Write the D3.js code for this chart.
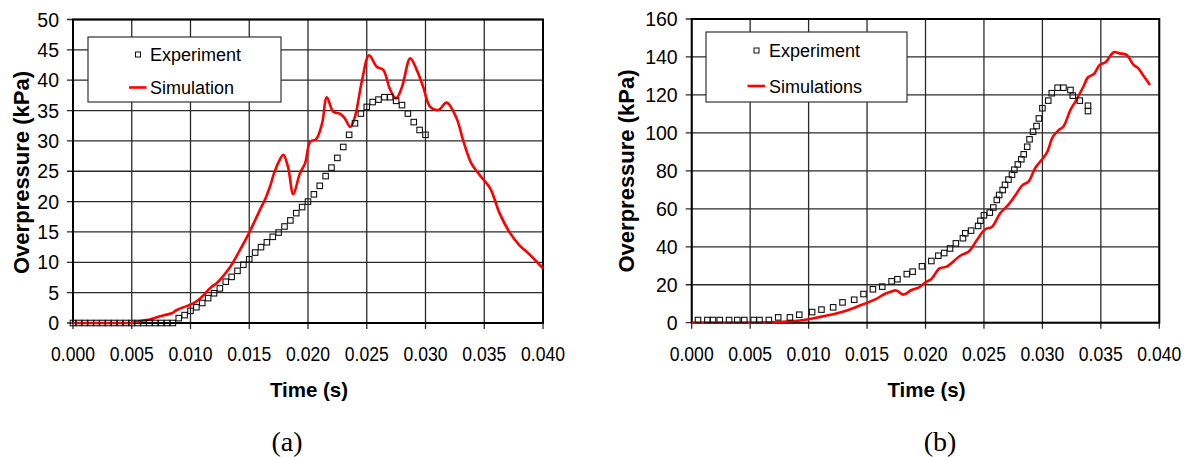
<!DOCTYPE html>
<html>
<head>
<meta charset="utf-8">
<script src="https://cdn.jsdelivr.net/npm/d3@7"></script>
<style>
  body { margin: 0; background: #fff; }
  svg text { font-family: "Liberation Sans", Arial, sans-serif; fill: #000; }
</style>
</head>
<body>
<svg id="fig" width="1191" height="457"></svg>
<script>
// Overpressure vs time, two panels (a) and (b)

const xTicks = [0, 0.005, 0.010, 0.015, 0.020, 0.025, 0.030, 0.035, 0.040];
const leftYTicks = [0, 5, 10, 15, 20, 25, 30, 35, 40, 45, 50];
const rightYTicks = [0, 20, 40, 60, 80, 100, 120, 140, 160];

// panel (a)
const leftExperiment = [
  [0.0000, 0], [0.0005, 0], [0.0010, 0], [0.0015, 0], [0.0020, 0], [0.0025, 0],
  [0.0030, 0], [0.0035, 0], [0.0040, 0], [0.0045, 0], [0.0050, 0], [0.0055, 0],
  [0.0060, 0], [0.0065, 0], [0.0070, 0], [0.0075, 0], [0.0080, 0], [0.0085, 0],
  [0.0090, 0.8], [0.0095, 1.3], [0.0100, 2.0], [0.0105, 2.6], [0.0110, 3.3],
  [0.0115, 4.1], [0.0120, 4.9], [0.0125, 5.7], [0.0130, 6.8], [0.0135, 7.6],
  [0.0140, 8.6], [0.0145, 9.6], [0.0150, 10.5], [0.0155, 11.6], [0.0160, 12.5],
  [0.0165, 13.3], [0.0170, 14.2], [0.0175, 14.9], [0.0180, 15.9], [0.0185, 16.9],
  [0.0190, 18.1], [0.0195, 19.1], [0.0200, 20.0], [0.0205, 21.2], [0.0210, 22.6],
  [0.0215, 24.2], [0.0220, 25.6], [0.0225, 27.2], [0.0230, 29.0], [0.0235, 31.0],
  [0.0240, 32.9], [0.0245, 34.5], [0.0250, 35.6], [0.0255, 36.4], [0.0260, 36.8],
  [0.0265, 37.2], [0.0270, 37.2], [0.0275, 36.6], [0.0280, 35.9], [0.0285, 34.5],
  [0.0290, 33.1], [0.0295, 31.8], [0.0300, 31.0]
];
const leftSimulation = [
  [0.0000, 0], [0.0030, 0], [0.0050, 0.05], [0.0060, 0.4], [0.0066, 0.6],
  [0.0074, 1.1], [0.0078, 1.3], [0.0084, 1.6], [0.0088, 2.1], [0.0094, 2.6],
  [0.0101, 3.1], [0.0108, 4.0], [0.0117, 5.8], [0.0122, 6.5], [0.0126, 7.3],
  [0.0134, 9.3], [0.0142, 12.0], [0.0150, 14.9], [0.0159, 18.6], [0.0164, 20.6],
  [0.0168, 22.7], [0.0171, 24.6], [0.0175, 26.5], [0.0179, 27.7], [0.0183, 25.7],
  [0.01875, 21.2], [0.0193, 24.6], [0.01975, 26.3], [0.0202, 29.9], [0.0207, 30.3],
  [0.0212, 32.9], [0.0216, 37.2], [0.02215, 34.8], [0.0227, 34.5], [0.0231, 33.8],
  [0.0236, 32.3], [0.0240, 34.0], [0.0246, 40.0], [0.0252, 44.1], [0.02585, 42.2],
  [0.0264, 41.7], [0.0270, 38.4], [0.0275, 37.0], [0.0280, 38.9], [0.0287, 43.6],
  [0.02925, 41.7], [0.0298, 38.9], [0.0304, 35.6], [0.0311, 35.1], [0.0318, 36.3],
  [0.03265, 33.7], [0.0332, 30.1], [0.0339, 26.3], [0.0346, 24.4], [0.0355, 22.2],
  [0.0363, 18.1], [0.0372, 14.8], [0.0380, 12.8], [0.0389, 11.2], [0.0400, 9.0]
];

// panel (b)
const rightExperiment = [
  [0.00054, 1.4], [0.00134, 1.4], [0.00182, 1.4], [0.0024, 1.4], [0.0032, 1.4],
  [0.0039, 1.4], [0.0045, 1.4], [0.0053, 1.4], [0.0058, 1.4], [0.0066, 1.4],
  [0.0074, 2.8], [0.0084, 2.8], [0.0092, 4.2], [0.0103, 5.6], [0.0111, 6.9],
  [0.0121, 8.1], [0.0129, 10.7], [0.0139, 12.1], [0.0147, 15.1], [0.0155, 17.6],
  [0.0163, 19.0], [0.0171, 21.8], [0.0176, 22.9], [0.0184, 25.6], [0.0189, 26.9],
  [0.0197, 29.7], [0.0205, 32.5], [0.0211, 35.3], [0.0216, 36.7], [0.0221, 39.1],
  [0.0226, 41.8], [0.0232, 44.5], [0.0234, 47.1], [0.0239, 48.5], [0.0245, 51.0],
  [0.0247, 53.7], [0.0250, 56.6], [0.0255, 58.0], [0.0258, 60.7], [0.0261, 64.7],
  [0.0263, 67.3], [0.0266, 69.9], [0.0268, 72.6], [0.0271, 75.4], [0.0274, 78.0],
  [0.0276, 80.6], [0.0279, 83.4], [0.0282, 86.1], [0.0284, 88.7], [0.0287, 92.7],
  [0.0289, 96.6], [0.0292, 100.6], [0.0295, 103.6], [0.0297, 107.6], [0.0300, 113.0],
  [0.0305, 117.0], [0.0308, 120.9], [0.0313, 123.8], [0.0318, 123.8], [0.0324, 122.6],
  [0.0326, 119.6], [0.0332, 117.0], [0.0339, 114.3], [0.0339, 111.5]
];
const rightSimulation = [
  [0.0000, 0], [0.0068, 0.2], [0.0088, 0.9], [0.0100, 1.8], [0.0111, 3.2],
  [0.0122, 4.6], [0.0134, 6.7], [0.0145, 9.3], [0.0157, 12.3], [0.0165, 15.1],
  [0.0170, 16.2], [0.0175, 17.0], [0.0181, 14.8], [0.0188, 17.2], [0.0194, 18.5],
  [0.0201, 21.6], [0.0205, 23.0], [0.0212, 28.6], [0.0218, 29.5], [0.0230, 35.4],
  [0.0237, 37.5], [0.0244, 43.6], [0.0251, 49.2], [0.0257, 50.6], [0.0264, 57.8],
  [0.0270, 61.5], [0.0277, 67.3], [0.0283, 72.5], [0.0288, 74.3], [0.0294, 81.6],
  [0.0300, 86.2], [0.0304, 89.8], [0.0309, 98.0], [0.0314, 101.5], [0.0318, 103.4],
  [0.0324, 112.1], [0.0329, 117.3], [0.0335, 124.3], [0.0339, 129.3], [0.0344, 131.0],
  [0.0349, 135.8], [0.0354, 137.2], [0.0361, 142.5], [0.0366, 141.9], [0.0372, 141.1],
  [0.0378, 135.8], [0.0382, 134.0], [0.0386, 130.5], [0.0392, 125.2]
];

const svg = d3.select("#fig");

function drawPanel(opt) {
  const g = svg.append("g");
  const x = d3.scaleLinear().domain([0, 0.040]).range([opt.left, opt.right]);
  const y = d3.scaleLinear().domain([0, opt.yMax]).range([opt.bottom, opt.top]);

  // grid
  g.append("g")
    .selectAll("line.vg")
    .data(xTicks)
    .enter()
    .append("line")
    .attr("x1", d => x(d)).attr("x2", d => x(d))
    .attr("y1", opt.top).attr("y2", opt.bottom + 6)
    .attr("stroke", "#2a2a2a")
    .attr("stroke-width", 1.3);

  g.append("g")
    .selectAll("line.hg")
    .data(opt.yTicks)
    .enter()
    .append("line")
    .attr("x1", opt.left - 6).attr("x2", opt.right)
    .attr("y1", d => y(d)).attr("y2", d => y(d))
    .attr("stroke", "#2a2a2a")
    .attr("stroke-width", 1.3);

  // plot frame
  g.append("rect")
    .attr("x", opt.left).attr("y", opt.top)
    .attr("width", opt.right - opt.left)
    .attr("height", opt.bottom - opt.top)
    .attr("fill", "none")
    .attr("stroke", "#000")
    .attr("stroke-width", 2);

  // tick labels (x labels are narrow in the original)
  g.selectAll("text.xt")
    .data(xTicks)
    .enter()
    .append("text")
    .attr("x", d => x(d))
    .attr("y", opt.bottom + 38)
    .attr("text-anchor", "middle")
    .attr("textLength", 44)
    .attr("lengthAdjust", "spacingAndGlyphs")
    .style("font-size", "20px")
    .text(d3.format(".3f"));

  g.selectAll("text.yt")
    .data(opt.yTicks)
    .enter()
    .append("text")
    .attr("x", opt.left - 14)
    .attr("y", d => y(d) + 7)
    .attr("text-anchor", "end")
    .style("font-size", "19.5px")
    .text(d => d);

  // axis titles
  g.append("text")
    .attr("x", (opt.left + opt.right) / 2 + 1)
    .attr("y", opt.bottom + 74)
    .attr("text-anchor", "middle")
    .style("font-size", "20.5px")
    .style("font-weight", "bold")
    .text("Time (s)");

  g.append("text")
    .attr("transform", `translate(${opt.yTitleX},${opt.yTitleY}) rotate(-90)`)
    .attr("text-anchor", "middle")
    .style("font-size", "22px")
    .style("font-weight", "bold")
    .text("Overpressure (kPa)");

  // caption
  g.append("text")
    .attr("x", opt.captionX)
    .attr("y", 451)
    .attr("text-anchor", "middle")
    .style("font-family", "'Liberation Serif', 'Times New Roman', serif")
    .style("font-size", "28px")
    .text(opt.caption);

  // simulation line
  const line = d3.line()
    .x(d => x(d[0]))
    .y(d => y(d[1]))
    .curve(d3.curveCatmullRom.alpha(0.5));

  g.append("path")
    .datum(opt.simulation)
    .attr("fill", "none")
    .attr("stroke", "#ff0000")
    .attr("stroke-width", 2.6)
    .attr("stroke-linejoin", "round")
    .attr("d", line);

  // experiment squares
  g.selectAll("rect.exp")
    .data(opt.experiment)
    .enter()
    .append("rect")
    .attr("x", d => x(d[0]) - 2.75)
    .attr("y", d => y(d[1]) - 2.75)
    .attr("width", 5.5)
    .attr("height", 5.5)
    .attr("fill", "none")
    .attr("stroke", "#111")
    .attr("stroke-width", 1.1);

  // legend
  const lg = g.append("g")
    .attr("transform", `translate(${opt.legend.x},${opt.legend.y})`);

  lg.append("rect")
    .attr("x", 0).attr("y", 0)
    .attr("width", opt.legend.w).attr("height", opt.legend.h)
    .attr("fill", "#fff")
    .attr("stroke", "#333")
    .attr("stroke-width", 1.2);

  lg.append("rect")
    .attr("x", opt.legend.markX - 2.5).attr("y", opt.legend.row1 - 2.5)
    .attr("width", 5).attr("height", 5)
    .attr("fill", "none")
    .attr("stroke", "#111")
    .attr("stroke-width", 1);

  lg.append("text")
    .attr("x", opt.legend.textX)
    .attr("y", opt.legend.row1 + 6.5)
    .style("font-size", "18px")
    .text(opt.labels[0]);

  lg.append("line")
    .attr("x1", opt.legend.markX - 9).attr("x2", opt.legend.markX + 8.5)
    .attr("y1", opt.legend.row2).attr("y2", opt.legend.row2)
    .attr("stroke", "#ff0000")
    .attr("stroke-width", 2.6);

  lg.append("text")
    .attr("x", opt.legend.textX)
    .attr("y", opt.legend.row2 + 6.5)
    .style("font-size", "18px")
    .text(opt.labels[1]);
}

drawPanel({
  left: 73, right: 543, top: 19.5, bottom: 323,
  yMax: 50, yTicks: leftYTicks,
  experiment: leftExperiment, simulation: leftSimulation,
  labels: ["Experiment", "Simulation"],
  legend: { x: 88, y: 37, w: 193, h: 65, markX: 50, textX: 62, row1: 17.5, row2: 50.5 },
  yTitleX: 28.5, yTitleY: 172.5, captionX: 287, caption: "(a)"
});

drawPanel({
  left: 691.7, right: 1159.3, top: 19, bottom: 322.7,
  yMax: 160, yTicks: rightYTicks,
  experiment: rightExperiment, simulation: rightSimulation,
  labels: ["Experiment", "Simulations"],
  legend: { x: 706, y: 32, w: 201, h: 70, markX: 50.5, textX: 63, row1: 18.5, row2: 54 },
  yTitleX: 634, yTitleY: 171, captionX: 940, caption: "(b)"
});
</script>
</body>
</html>
